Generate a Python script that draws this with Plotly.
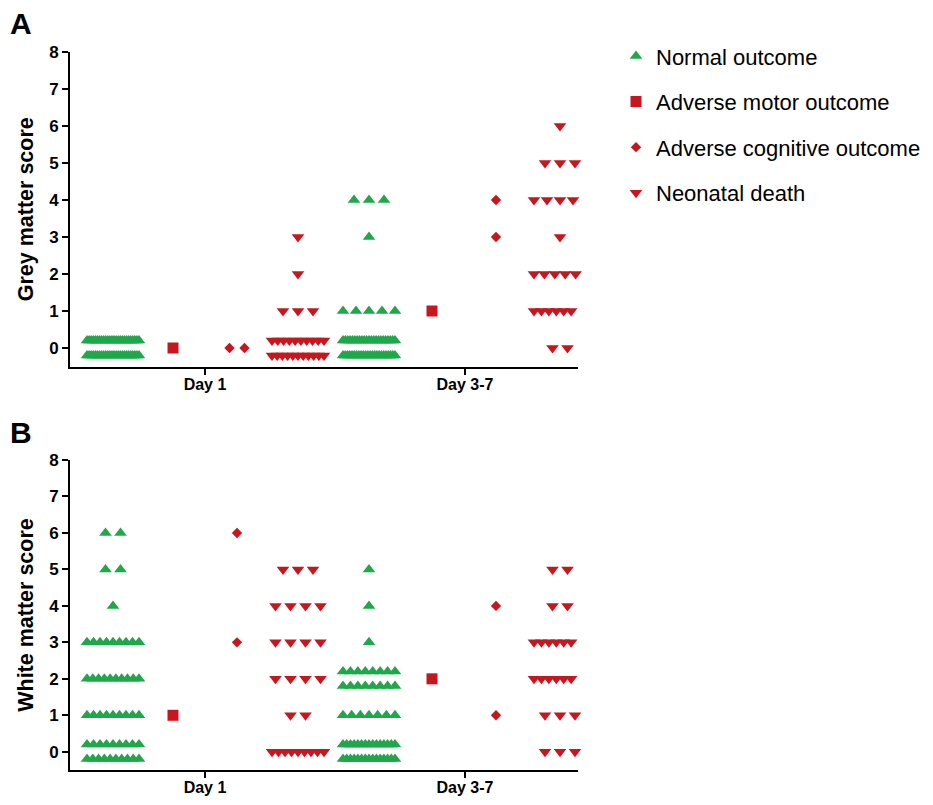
import plotly.graph_objects as go

# ---------------- data ----------------
GROUP_NAMES = ["Normal outcome", "Adverse motor outcome",
               "Adverse cognitive outcome", "Neonatal death"]
DAY_LABELS = ["Day 1", "Day 3-7"]
Y_TICKS = [0, 1, 2, 3, 4, 5, 6, 7, 8]

# Panel A - grey matter score: scores and number of infants at each score
grey_normal_d1_scores = [0]
grey_normal_d1_counts = [52]
grey_motor_d1_scores = [0]
grey_motor_d1_counts = [1]
grey_cog_d1_scores = [0]
grey_cog_d1_counts = [2]
grey_death_d1_scores = [0, 1, 2, 3]
grey_death_d1_counts = [21, 3, 1, 1]

grey_normal_d37_scores = [0, 1, 3, 4]
grey_normal_d37_counts = [47, 5, 1, 3]
grey_motor_d37_scores = [1]
grey_motor_d37_counts = [1]
grey_cog_d37_scores = [3, 4]
grey_cog_d37_counts = [1, 1]
grey_death_d37_scores = [0, 1, 2, 3, 4, 5, 6]
grey_death_d37_counts = [2, 8, 6, 1, 5, 3, 1]

# Panel B - white matter score
white_normal_d1_scores = [0, 1, 2, 3, 4, 5, 6]
white_normal_d1_counts = [19, 9, 10, 9, 1, 2, 2]
white_motor_d1_scores = [1]
white_motor_d1_counts = [1]
white_cog_d1_scores = [3, 6]
white_cog_d1_counts = [1, 1]
white_death_d1_scores = [0, 1, 2, 3, 4, 5]
white_death_d1_counts = [9, 2, 4, 4, 4, 3]

white_normal_d37_scores = [0, 1, 2, 3, 4, 5]
white_normal_d37_counts = [30, 7, 16, 1, 1, 1]
white_motor_d37_scores = [2]
white_motor_d37_counts = [1]
white_cog_d37_scores = [1, 4]
white_cog_d37_counts = [1, 1]
white_death_d37_scores = [0, 1, 2, 3, 4, 5]
white_death_d37_counts = [3, 3, 8, 8, 2, 2]

# ---------------- style / layout constants ----------------
GREEN = "#1EA84A"
RED = "#C8161E"
FONT = "Arial, 'Liberation Sans', sans-serif"
OFF = 8                            # page body margin
W, H = 933 - OFF, 805 - OFF
PLOT_L, PLOT_R = 70 - OFF, 578 - OFF   # pixel extent of x axes
PLOT_T, PLOT_B = 52 - OFF, 770 - OFF
PLOT_W = PLOT_R - PLOT_L
# group centres (in x-axis units = pixels from the y axis)
CENTERS = {("d1", 0): 43, ("d1", 1): 103, ("d1", 2): 167, ("d1", 3): 228,
           ("d37", 0): 299, ("d37", 1): 362, ("d37", 2): 426, ("d37", 3): 490}
DAY_TICKS = [135, 395]
SPACING = 15.0      # natural spacing between points of a row
ROW_MAX = 64.0      # maximum row width
MARK_W = 12.0
SPLIT = 12          # above this count a row is split in two
ROW_OFF = 0.2

SYMBOLS = ["triangle-up", "square", "diamond", "triangle-down"]
COLORS = [GREEN, RED, RED, RED]
SIZES = [11, 11, 8, 11]


def swarm(scores, counts, center):
    xs, ys = [], []
    for s, n in zip(scores, counts):
        if n > SPLIT:
            rows = [(s + ROW_OFF, n // 2), (s - ROW_OFF, n - n // 2)]
        else:
            rows = [(s, n)]
        for yv, m in rows:
            sp = SPACING if m <= 1 else min(SPACING, (ROW_MAX - MARK_W) / (m - 1))
            for i in range(m):
                xs.append(center + (i - (m - 1) / 2) * sp)
                ys.append(yv)
    return xs, ys


panels = {
    "A": [
        [(grey_normal_d1_scores, grey_normal_d1_counts), (grey_normal_d37_scores, grey_normal_d37_counts)],
        [(grey_motor_d1_scores, grey_motor_d1_counts), (grey_motor_d37_scores, grey_motor_d37_counts)],
        [(grey_cog_d1_scores, grey_cog_d1_counts), (grey_cog_d37_scores, grey_cog_d37_counts)],
        [(grey_death_d1_scores, grey_death_d1_counts), (grey_death_d37_scores, grey_death_d37_counts)],
    ],
    "B": [
        [(white_normal_d1_scores, white_normal_d1_counts), (white_normal_d37_scores, white_normal_d37_counts)],
        [(white_motor_d1_scores, white_motor_d1_counts), (white_motor_d37_scores, white_motor_d37_counts)],
        [(white_cog_d1_scores, white_cog_d1_counts), (white_cog_d37_scores, white_cog_d37_counts)],
        [(white_death_d1_scores, white_death_d1_counts), (white_death_d37_scores, white_death_d37_counts)],
    ],
}

fig = go.Figure()
for p, (xa, ya) in zip(["A", "B"], [("x", "y"), ("x2", "y2")]):
    for g in range(4):
        xs, ys = [], []
        for d, day in enumerate(["d1", "d37"]):
            sc, ct = panels[p][g][d]
            x1, y1 = swarm(sc, ct, CENTERS[(day, g)])
            xs += x1
            ys += y1
        fig.add_trace(go.Scatter(
            x=xs, y=ys, mode="markers", xaxis=xa, yaxis=ya,
            name=GROUP_NAMES[g], legendgroup=GROUP_NAMES[g],
            showlegend=(p == "A"), cliponaxis=False,
            marker=dict(symbol=SYMBOLS[g], color=COLORS[g], size=SIZES[g],
                        line=dict(width=0)),
        ))

plot_h = PLOT_B - PLOT_T
domA = [(PLOT_B - (366.5 - OFF)) / plot_h, 1.0]
domB = [0.0, (PLOT_B - (460 - OFF)) / plot_h]

axis_common = dict(showline=True, linecolor="black", linewidth=2,
                   ticks="outside", ticklen=6, tickwidth=2, tickcolor="black",
                   showgrid=False, zeroline=False,
                   tickfont=dict(family=FONT, size=17, color="black", weight="bold"))

for xa, ya, dom, title in [("xaxis", "yaxis", domA, "Grey matter score"),
                           ("xaxis2", "yaxis2", domB, "White matter score")]:
    fig.layout[xa] = dict(axis_common, range=[0, PLOT_W],
                          tickvals=DAY_TICKS, ticktext=DAY_LABELS,
                          ticklabelstandoff=-4,
                          tickfont=dict(family=FONT, size=16, color="black", weight="bold"),
                          anchor=ya.replace("axis", ""), domain=[0, 1])
    fig.layout[ya] = dict(axis_common, range=[-0.5, 8], tickvals=Y_TICKS,
                          anchor=xa.replace("axis", ""), domain=dom,
                          title=dict(text=title, standoff=10,
                                     font=dict(family=FONT, size=21.5, color="black", weight="bold")))

fig.add_annotation(text="<b>A</b>", xref="paper", yref="paper", x=-PLOT_L / PLOT_W,
                   y=(PLOT_B - (24 - OFF)) / plot_h,
                   xanchor="left", yanchor="middle", showarrow=False,
                   font=dict(family=FONT, size=30, color="black"))
fig.add_annotation(text="<b>B</b>", xref="paper", yref="paper", x=-PLOT_L / PLOT_W,
                   y=(PLOT_B - (432 - OFF)) / plot_h, xanchor="left", yanchor="middle",
                   showarrow=False,
                   font=dict(family=FONT, size=30, color="black"))

fig.update_layout(
    width=W, height=H,
    margin=dict(l=PLOT_L, r=W - PLOT_R, t=PLOT_T, b=H - PLOT_B, autoexpand=False),
    paper_bgcolor="white", plot_bgcolor="white",
    font=dict(family=FONT, color="black"),
    legend=dict(x=(608 - OFF - PLOT_L + 8) / PLOT_W, y=1.0235, xanchor="left", yanchor="top",
                font=dict(family=FONT, size=22, color="black"),
                tracegroupgap=14, bgcolor="rgba(0,0,0,0)"),
)

fig.write_html("out.html")
